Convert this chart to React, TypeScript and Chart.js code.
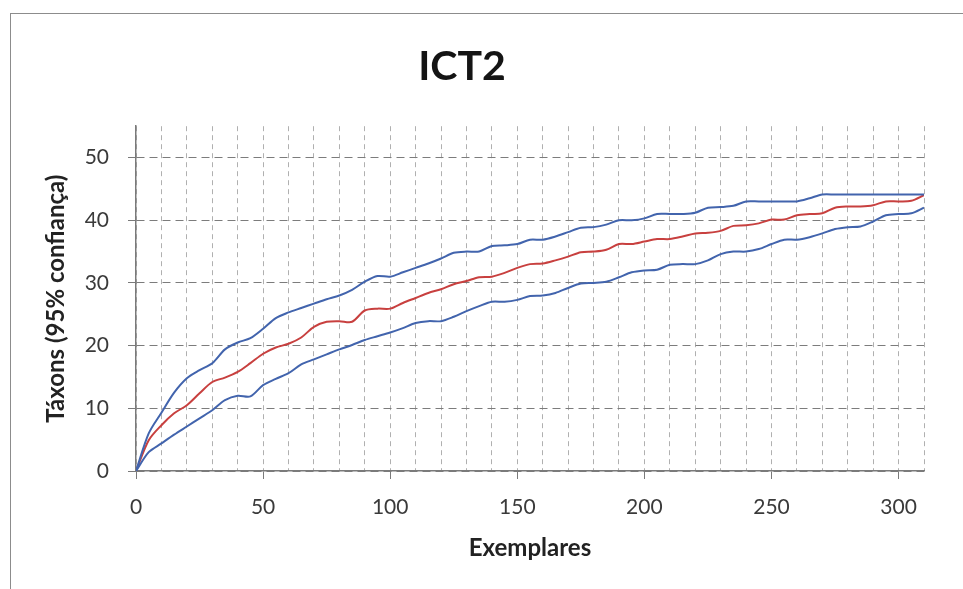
import React, { useEffect, useRef } from "react";
import { Chart, registerables } from "chart.js";

Chart.register(...registerables);

const exemplares = [
  0, 5, 10, 15, 20, 25, 30, 35, 40, 45,
  50, 55, 60, 65, 70, 75, 80, 85, 90, 95,
  100, 105, 110, 115, 120, 125, 130, 135, 140, 145,
  150, 155, 160, 165, 170, 175, 180, 185, 190, 195,
  200, 205, 210, 215, 220, 225, 230, 235, 240, 245,
  250, 255, 260, 265, 270, 275, 280, 285, 290, 295,
  300, 305, 310,
];

const upperBound = [
  0, 6, 9.3, 12.5, 14.8, 16.1, 17.2, 19.4, 20.5, 21.2,
  22.7, 24.4, 25.3, 26, 26.7, 27.4, 28, 28.9, 30.2, 31.1,
  31, 31.7, 32.4, 33.1, 33.9, 34.8, 35, 35, 35.9, 36,
  36.2, 36.9, 36.9, 37.4, 38.1, 38.8, 38.9, 39.3, 40, 40,
  40.3, 41, 41, 41, 41.2, 42, 42.1, 42.3, 43, 43,
  43, 43, 43, 43.5, 44.1, 44.1, 44.1, 44.1, 44.1, 44.1,
  44.1, 44.1, 44.1,
];

const meanTaxa = [
  0, 4.9, 7.3, 9.2, 10.5, 12.4, 14.2, 14.9, 15.8, 17.2,
  18.7, 19.7, 20.3, 21.3, 23, 23.8, 23.9, 23.8, 25.6, 25.9,
  25.9, 26.8, 27.6, 28.4, 29, 29.8, 30.3, 30.9, 31, 31.6,
  32.4, 33, 33.1, 33.6, 34.2, 34.9, 35, 35.3, 36.2, 36.2,
  36.6, 37, 37, 37.4, 37.9, 38, 38.3, 39.1, 39.2, 39.5,
  40.1, 40.1, 40.8, 41, 41.1, 42, 42.2, 42.2, 42.4, 43,
  43, 43.1, 44,
];

const lowerBound = [
  0, 3, 4.4, 5.8, 7.1, 8.4, 9.7, 11.3, 12, 11.9,
  13.7, 14.7, 15.6, 17, 17.8, 18.6, 19.4, 20.1, 20.9, 21.5,
  22.1, 22.8, 23.6, 23.9, 23.9, 24.6, 25.5, 26.3, 27, 27,
  27.3, 27.9, 28, 28.4, 29.2, 29.9, 30, 30.2, 30.9, 31.7,
  32, 32.1, 32.9, 33, 33, 33.6, 34.6, 35, 35, 35.4,
  36.2, 36.9, 36.9, 37.3, 37.9, 38.6, 38.9, 39, 39.8, 40.8,
  41, 41.1, 42,
];

const xLabelValues = [0, 50, 100, 150, 200, 250, 300];
const yTickValues = [0, 10, 20, 30, 40, 50];

const BLUE = "#4264ad";
const RED = "#c8403f";
const FONT = "Lato, 'Open Sans', sans-serif";

export default function App() {
  const ref = useRef<HTMLCanvasElement | null>(null);

  useEffect(() => {
    if (!ref.current) return;
    const pts = (ys: number[]) => exemplares.map((x, i) => ({ x, y: ys[i] }));
    const chart = new Chart(ref.current, {
      type: "line",
      data: {
        datasets: [
          { label: "Superior", data: pts(upperBound), borderColor: BLUE, borderWidth: 2, pointRadius: 0, tension: 0.3, fill: false },
          { label: "Inferior", data: pts(lowerBound), borderColor: BLUE, borderWidth: 2, pointRadius: 0, tension: 0.3, fill: false },
          { label: "Média", data: pts(meanTaxa), borderColor: RED, borderWidth: 2, pointRadius: 0, tension: 0.3, fill: false },
        ],
      },
      options: {
        animation: false,
        responsive: false,
        maintainAspectRatio: false,
        layout: { padding: { left: 0, right: 39, top: 0, bottom: 0 } },
        plugins: {
          legend: { display: false },
          tooltip: { enabled: false },
          title: {
            display: true,
            text: "ICT2",
            color: "#141414",
            font: { family: FONT, size: 41, weight: "bold" },
            padding: { top: 42, bottom: 35 },
          },
        },
        scales: {
          x: {
            type: "linear",
            min: 0,
            max: 310,
            afterFit: (s: any) => { s.height = 118; },
            afterBuildTicks: (s: any) => {
              s.ticks = s.ticks.filter((t: any) => t.value % 10 === 0);
            },
            ticks: {
              stepSize: 10,
              autoSkip: false,
              maxRotation: 0,
              padding: 16,
              color: "#3a3a3a",
              font: { family: FONT, size: 21 },
              callback: (v: any) => (xLabelValues.includes(Number(v)) ? String(v) : ""),
            },
            grid: {
              color: "#b0b0b0",
              lineWidth: 1,
              tickLength: 8,
              tickColor: (ctx: any) => (ctx.tick && xLabelValues.includes(ctx.tick.value) ? "#7a7a7a" : "rgba(0,0,0,0)"),
            },
            border: { display: true, color: "#7a7a7a", width: 1.5, dash: [5, 4] },
            title: {
              display: true,
              text: "Exemplares",
              color: "#222",
              font: { family: FONT, size: 24, weight: "bold" },
              padding: { top: 0, bottom: 26 },
            },
          },
          y: {
            type: "linear",
            min: 0,
            max: 55,
            afterFit: (s: any) => { s.width = 136; },
            afterBuildTicks: (s: any) => {
              s.ticks = s.ticks.filter((t: any) => yTickValues.includes(t.value));
            },
            ticks: {
              stepSize: 10,
              padding: 19,
              color: "#3a3a3a",
              font: { family: FONT, size: 21 },
            },
            grid: {
              color: "#7c7c7c",
              lineWidth: 1,
              tickLength: 8,
              tickColor: "#7a7a7a",
            },
            border: { display: true, color: "#7a7a7a", width: 1.5, dash: [8, 5] },
            title: {
              display: true,
              text: "Táxons (95% confiança)",
              color: "#222",
              font: { family: FONT, size: 24, weight: "bold" },
              padding: { top: 42, bottom: 0 },
            },
          },
        },
      },
    });
    return () => chart.destroy();
  }, []);

  return (
    <div style={{ position: "absolute", left: 0, top: 0, width: 963, height: 589, background: "#fff", overflow: "hidden" }}>
      <div
        style={{
          position: "absolute",
          left: 10,
          top: 13,
          width: 1000,
          height: 1000,
          borderLeft: "1.5px solid #8c8c8c",
          borderTop: "1.5px solid #8c8c8c",
        }}
      />
      <canvas ref={ref} width={963} height={589} style={{ position: "absolute", left: 0, top: 0, display: "block" }} />
    </div>
  );
}
